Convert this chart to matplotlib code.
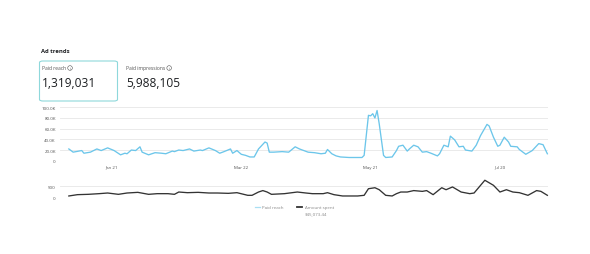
import matplotlib
matplotlib.use('Agg')
import numpy as np
import pandas as pd
import matplotlib.dates as mdates
from matplotlib import pyplot as plt
from matplotlib.patches import FancyBboxPatch, Ellipse

W, H = 590, 255

# day offsets from Jan 1 and paid reach (thousands)
reach_days = [0, 2, 6, 7, 10, 13, 15, 18, 21, 24, 26, 27, 29, 31, 33, 34, 37, 40, 43, 45,
              48, 49, 51, 53, 56, 58, 61, 62, 65, 68, 70, 72, 75, 76, 78, 80, 82, 84, 86, 88,
              91, 92, 93, 95, 99, 102, 105, 107, 109, 111, 114, 117, 119, 120, 122, 124, 126,
              130, 133, 136, 137, 139, 140, 141, 142, 143, 144, 146, 147, 150, 152, 153, 155,
              157, 158, 160, 162, 164, 166, 168, 171, 172, 174, 176, 177, 179, 181, 183, 184,
              187, 189, 191, 194, 195, 197, 199, 200, 202, 204, 205, 208, 209, 212, 215, 218,
              220, 222]
reach_k = [22, 16, 19, 14, 16, 22, 19, 24, 19, 11, 14, 13, 20, 19, 26, 16, 11, 15, 14, 13,
           18, 17, 20, 19, 22, 18, 20, 19, 24, 19, 14, 17, 22, 14, 19, 12, 10, 7, 7, 22,
           35, 33, 16, 16, 17, 16, 26, 22, 19, 16, 15, 13, 14, 21, 13, 9, 7,
           6, 6, 6, 10, 85, 84, 88, 80, 94, 69, 10, 6, 7, 19, 27, 29,
           18, 22, 29, 26, 16, 17, 14, 9, 13, 29, 26, 46, 39, 26, 27, 20,
           18, 29, 47, 68, 65, 44, 27, 29, 44, 35, 27, 26, 21, 12, 19, 32,
           30, 13]

# day offsets and amount spent
spend_days = [0, 4, 9, 14, 18, 23, 27, 32, 37, 41, 46, 49, 51, 55, 60, 65, 69, 74, 78, 83,
              85, 88, 90, 92, 94, 100, 106, 110, 113, 118, 120, 123, 127, 134, 137, 139, 142,
              144, 147, 150, 152, 154, 157, 160, 164, 166, 169, 173, 175, 178, 182, 186, 188,
              193, 197, 200, 203, 206, 209, 213, 217, 219, 222]
spend = [60, 120, 135, 165, 195, 135, 195, 225, 135, 165, 165, 135, 240, 210, 225, 195, 195,
         180, 210, 90, 90, 240, 305, 240, 135, 165, 240, 195, 165, 165, 210, 120, 60, 60, 90,
         390, 435, 345, 90, 60, 165, 240, 240, 305, 270, 305, 120, 435, 345, 470, 240, 165,
         195, 775, 545, 240, 345, 240, 210, 90, 305, 270, 90]

tick_dates = ['2023-01-21', '2023-03-22', '2023-05-21', '2023-07-20']
reach_ticks = [0, 20, 40, 60, 80, 100]
reach_tick_labels = ['0', '20.0K', '40.0K', '60.0K', '80.0K', '100.0K']
spend_ticks = [0, 500]

BLUE = '#6cc6ea'
DARK = '#333333'
GRID = '#e6e6e6'
TXT = '#555555'
FONT = ['Open Sans', 'DejaVu Sans']

start = pd.Timestamp('2023-01-01')
r_dates = start + pd.to_timedelta(reach_days, unit='D')
s_dates = start + pd.to_timedelta(spend_days, unit='D')
x_lo = start + pd.Timedelta(days=-4.1)
x_hi = start + pd.Timedelta(days=222.3)


def fx(px):
    return px / W


def fy(py):
    return 1 - py / H


def style_axis(ax):
    for s in ax.spines.values():
        s.set_visible(False)
    ax.tick_params(length=0, labelsize=3.2, colors=TXT, pad=3)
    ax.grid(axis='y', color=GRID, lw=0.6)
    ax.set_axisbelow(True)
    ax.set_xlim(x_lo, x_hi)


def info_label(fig, x, y, label):
    t = fig.text(fx(x), fy(y), label, fontsize=3.6, color=TXT, va='center')
    fig.canvas.draw()
    bb = t.get_window_extent()
    cx = bb.x1 + 3.4
    fig.patches.append(Ellipse((fx(cx), fy(y)), 4.6 / W, 4.6 / H, transform=fig.transFigure,
                               fc='none', ec=TXT, lw=0.4))
    fig.text(fx(cx), fy(y - 0.1), 'i', fontsize=2.6, color=TXT, ha='center', va='center')


def main():
    plt.rcParams['font.family'] = FONT
    fig = plt.figure(figsize=(W / 100, H / 100), dpi=100)
    fig.patch.set_facecolor('white')

    fig.text(fx(41), fy(52), 'Ad trends', fontsize=4.2, fontweight='bold', color='#1c1e21', va='center')

    box = FancyBboxPatch((fx(39.5), fy(102)), fx(117.5) - fx(39.5), fy(62) - fy(102),
                         boxstyle='round,pad=0,rounding_size=0.006', transform=fig.transFigure,
                         fc='white', ec='#8ed8db', lw=0.8)
    fig.patches.append(box)
    info_label(fig, 42.5, 69, 'Paid reach')
    fig.text(fx(42), fy(83.5), '1,319,031', fontsize=8.6, color='#1c1e21', va='center')
    info_label(fig, 126.5, 69, 'Paid impressions')
    fig.text(fx(126), fy(83.5), '5,988,105', fontsize=8.6, color='#1c1e21', va='center')

    # paid reach panel
    ax = fig.add_axes([fx(60), fy(161.7), fx(548) - fx(60), fy(108.3) - fy(161.7)])
    style_axis(ax)
    ax.plot(r_dates, reach_k, color=BLUE, lw=0.95, clip_on=False, label='Paid reach')
    ax.set_ylim(0, 100)
    ax.set_yticks(reach_ticks)
    ax.set_yticklabels(reach_tick_labels)
    ax.set_xticks(pd.to_datetime(tick_dates))
    ax.xaxis.set_major_formatter(mdates.DateFormatter('%b %d'))

    # amount spent panel
    ax2 = fig.add_axes([fx(60), fy(198.3), fx(548) - fx(60), fy(187.3) - fy(198.3)])
    style_axis(ax2)
    ax2.plot(s_dates, spend, color=DARK, lw=0.95, clip_on=False)
    ax2.set_ylim(0, 500)
    ax2.set_yticks(spend_ticks)
    ax2.set_xticks([])

    # legend
    fig.lines.append(plt.Line2D([fx(255), fx(259.5)], [fy(208), fy(208)], transform=fig.transFigure,
                                color='#a9dff3', lw=0.9))
    fig.text(fx(262.5), fy(208), 'Paid reach', fontsize=3.2, color='#888888', va='center')
    fig.lines.append(plt.Line2D([fx(297), fx(302)], [fy(208), fy(208)], transform=fig.transFigure,
                                color=DARK, lw=1.3))
    fig.text(fx(305), fy(208), 'Amount spent', fontsize=3.2, color='#888888', va='center')
    fig.text(fx(305), fy(214), '$45,073.44', fontsize=3.2, color='#888888', va='center')

    fig.savefig('out.png', dpi=100, facecolor='white')


if __name__ == '__main__':
    main()
